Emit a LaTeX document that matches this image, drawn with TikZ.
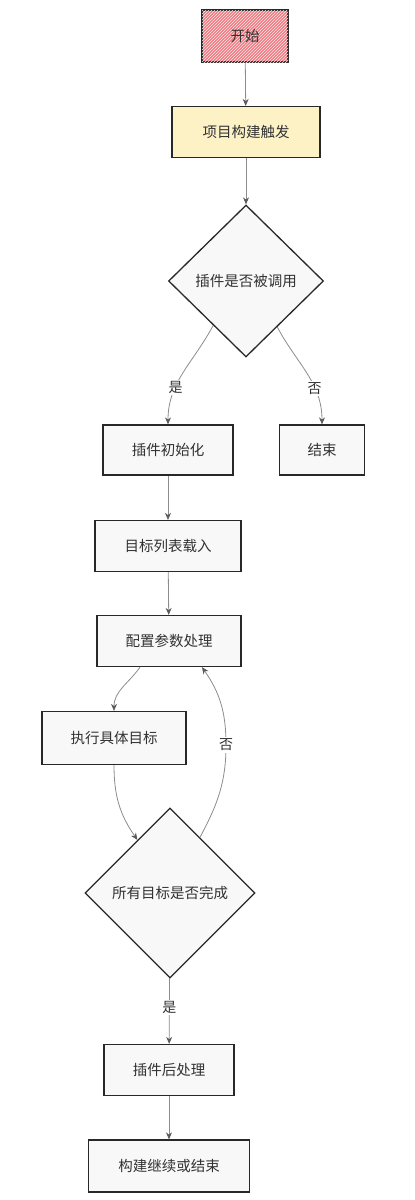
\documentclass[tikz,border=0pt]{standalone}
\usepackage{fontspec}
\setmainfont{Noto Sans CJK SC}
\usetikzlibrary{shapes.geometric,arrows.meta,calc,patterns}
\definecolor{edgec}{RGB}{140,140,140}
\definecolor{tipc}{RGB}{90,90,90}
\definecolor{boxfill}{RGB}{248,248,248}
\definecolor{boxline}{RGB}{40,40,40}
\definecolor{txt}{RGB}{50,50,50}
\definecolor{startfill}{RGB}{238,125,132}
\definecolor{trigfill}{RGB}{252,242,198}
\tikzset{
  box/.style={draw=boxline, line width=1.3pt, fill=boxfill, rectangle, inner sep=0pt, text=txt, font=\fontsize{14.5}{16}\selectfont},
  dec/.style={draw=boxline, line width=1.3pt, fill=boxfill, diamond, aspect=1, inner sep=0pt, text=txt, font=\fontsize{14.5}{16}\selectfont},
  conn/.style={draw=edgec, line width=0.8pt, -{Stealth[length=7pt,width=6pt,color=tipc]}},
  lbl/.style={fill=white, inner sep=1.5pt, text=txt, font=\fontsize{14}{16}\selectfont}
}
\begin{document}
\begin{tikzpicture}[x=1pt,y=-1pt]
\useasboundingbox (0,0) rectangle (415,1200);
\node[box, fill=startfill, minimum width=86pt, minimum height=52pt, postaction={pattern=north east lines, pattern color=white!80!startfill}] (start) at (245,36) {开始};
\node[box, fill=trigfill, minimum width=148pt, minimum height=51pt] (trig) at (246,132) {项目构建触发};
\node[dec, minimum width=155pt, minimum height=152pt] (d1) at (246,281) {插件是否被调用};
\node[box, minimum width=130pt, minimum height=50pt] (init) at (168,450) {插件初始化};
\node[box, minimum width=85pt, minimum height=50pt] (end) at (322,450) {结束};
\node[box, minimum width=146pt, minimum height=51pt] (load) at (168,546) {目标列表载入};
\node[box, minimum width=144pt, minimum height=51pt] (cfg) at (169,641) {配置参数处理};
\node[box, minimum width=144pt, minimum height=53pt] (exec) at (114,738) {执行具体目标};
\node[dec, minimum width=170pt, minimum height=170pt] (d2) at (170,893) {所有目标是否完成};
\node[box, minimum width=130pt, minimum height=51pt] (post) at (169,1070) {插件后处理};
\node[box, minimum width=161pt, minimum height=52pt] (fin) at (169,1166) {构建继续或结束};

\draw[conn] (start) -- (trig);
\draw[conn] (trig) -- (d1);
\draw[conn] ($(d1.south)!0.42!(d1.west)$) to[out=-118,in=90] node[lbl, pos=0.66] {是} (init.north);
\draw[conn] ($(d1.south)!0.4!(d1.east)$) to[out=-62,in=90] node[lbl, pos=0.66] {否} (end.north);
\draw[conn] (init) -- (load);
\draw[conn] (load) -- (cfg);
\draw[conn] ($(cfg.south)+(-29,0)$) to[out=-125,in=90] (exec.north);
\draw[conn] (exec.south) to[out=-90,in=125] ($(d2.north)!0.38!(d2.west)$);
\draw[conn] ($(d2.north)!0.35!(d2.east)$) to[out=62,in=-90] (226,745) node[lbl] {否} to[out=90,in=-55] ($(cfg.south)+(33,0)$);
\draw[conn] (d2) -- node[lbl, pos=0.45] {是} (post);
\draw[conn] (post) -- (fin);
\end{tikzpicture}
\end{document}
